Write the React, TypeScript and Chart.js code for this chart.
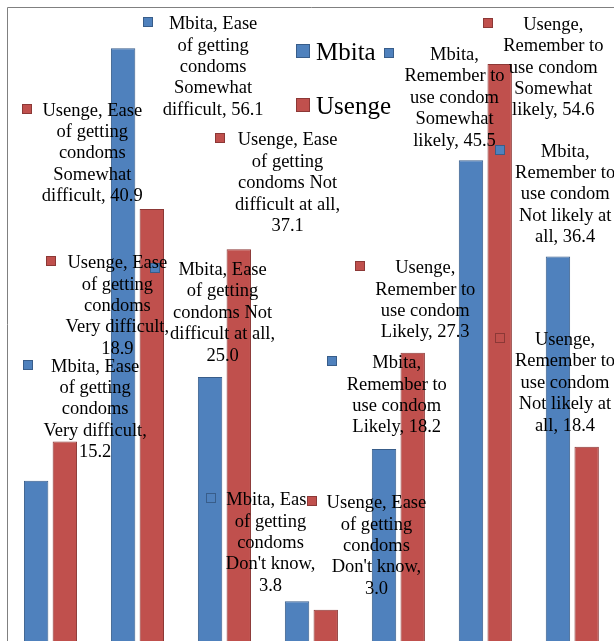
import React, { useEffect, useRef } from 'react';
import Chart from 'chart.js/auto';

// non-breaking spaces keep "Very difficult" together, as Excel wrapped it
const categories = [
    'Ease of getting condoms Very\u00a0difficult',
    'Ease of getting condoms Somewhat difficult',
    'Ease of getting condoms Not difficult at all',
    "Ease of getting condoms Don't know",
    'Remember to use condom Likely',
    'Remember to use condom Somewhat likely',
    'Remember to use condom Not likely at all',
];
const seriesNames = ['Mbita', 'Usenge'];
const mbitaValues = [15.2, 56.1, 25.0, 3.8, 18.2, 45.5, 36.4];
const usengeValues = [18.9, 40.9, 37.1, 3.0, 27.3, 54.6, 18.4];

// where each data label sits, relative to the top centre of its bar:
// [text centre dx, first baseline dy]
const mbitaLabelOffsets = [[59, -109], [90, -19], [12.5, -102], [-26.5, -96], [12.7, -80.7], [-16.5, -100.4], [7.2, -100]];
const usengeLabelOffsets = [[52.5, -173.3], [-59.5, -93.3], [48.8, -103.7], [50.7, -101.4], [12.5, -79.5], [53.6, -34.2], [-21.7, -101.9]];

const BLUE = '#4F81BD';
const BLUE_EDGE = '#385D8A';
const RED = '#C0504D';
const RED_EDGE = '#8C3836';
const FONT = '"Liberation Serif", "Times New Roman", serif';
const LABEL_SIZE = 18.5;
const LINE_H = 21.4;

function wrap(ctx: CanvasRenderingContext2D, text: string, maxW: number) {
    const words = text.split(' ');
    const lines: string[] = [];
    let cur = '';
    for (const w of words) {
        const t = cur ? cur + ' ' + w : w;
        if (cur && ctx.measureText(t).width > maxW) {
            lines.push(cur);
            cur = w;
        } else {
            cur = t;
        }
    }
    if (cur) lines.push(cur);
    return lines;
}

// plot area border (only the left and top edges fall inside the picture)
const framePlugin = {
    id: 'frame',
    beforeDatasetsDraw(chart: any) {
        const { ctx, chartArea: a } = chart;
        const l = Math.round(a.left) + 0.5;
        const t = Math.round(a.top) + 0.5;
        ctx.save();
        ctx.strokeStyle = '#808080';
        ctx.lineWidth = 1;
        ctx.beginPath();
        ctx.moveTo(l, a.bottom);
        ctx.lineTo(l, t);
        ctx.lineTo(a.right, t);
        ctx.stroke();
        ctx.restore();
    },
};

const labelPlugin = {
    id: 'barLabels',
    afterDatasetsDraw(chart: any) {
        const ctx: CanvasRenderingContext2D = chart.ctx;
        const offsets = [mbitaLabelOffsets, usengeLabelOffsets];
        ctx.save();
        ctx.font = `${LABEL_SIZE}px ${FONT}`;
        ctx.textAlign = 'center';
        ctx.textBaseline = 'alphabetic';
        chart.data.datasets.forEach((ds: any, d: number) => {
            const meta = chart.getDatasetMeta(d);
            meta.data.forEach((bar: any, i: number) => {
                const { x, y } = bar.getProps(['x', 'y'], true);
                const text = `${ds.label}, ${categories[i]}, ${ds.data[i].toFixed(1)}`;
                const lines = wrap(ctx, text, LABEL_SIZE * 5.79);
                const cx = x + offsets[d][i][0];
                const by = y + offsets[d][i][1];
                const w = Math.max(...lines.map(l => ctx.measureText(l).width));
                // legend key
                const kx = Math.round(cx - w / 2 - 20);
                const ky = Math.round(by - 12);
                ctx.fillStyle = ds.backgroundColor;
                ctx.fillRect(kx, ky, 10, 10);
                ctx.strokeStyle = ds.borderColor;
                ctx.lineWidth = 1;
                ctx.strokeRect(kx + 0.5, ky + 0.5, 9, 9);
                ctx.fillStyle = '#000';
                lines.forEach((l, k) => ctx.fillText(l, cx, by + k * LINE_H));
            });
        });
        ctx.restore();
    },
};

const legendPlugin = {
    id: 'legendBox',
    afterDraw(chart: any) {
        const ctx: CanvasRenderingContext2D = chart.ctx;
        ctx.save();
        ctx.font = `25px ${FONT}`;
        ctx.textAlign = 'left';
        ctx.textBaseline = 'alphabetic';
        chart.data.datasets.forEach((ds: any, d: number) => {
            const top = d === 0 ? 44 : 98;
            ctx.fillStyle = ds.backgroundColor;
            ctx.fillRect(296, top, 14, 14);
            ctx.strokeStyle = ds.borderColor;
            ctx.strokeRect(296.5, top + 0.5, 13, 13);
            ctx.fillStyle = '#000';
            ctx.fillText(ds.label, 316, top + 15.5);
        });
        ctx.restore();
    },
};

const CondomChart: React.FC = () => {
    const chartRef = useRef<HTMLCanvasElement>(null);
    const chartInstance = useRef<Chart | null>(null);

    useEffect(() => {
        if (!chartRef.current) return;
        if (chartInstance.current) chartInstance.current.destroy();

        chartInstance.current = new Chart(chartRef.current, {
            type: 'bar',
            data: {
                labels: categories,
                datasets: [
                    {
                        label: seriesNames[0],
                        data: mbitaValues,
                        backgroundColor: BLUE,
                        borderColor: BLUE_EDGE,
                        borderWidth: 1,
                        categoryPercentage: 0.66,
                        barPercentage: 0.85,
                    },
                    {
                        label: seriesNames[1],
                        data: usengeValues,
                        backgroundColor: RED,
                        borderColor: RED_EDGE,
                        borderWidth: 1,
                        categoryPercentage: 0.66,
                        barPercentage: 0.85,
                    },
                ],
            },
            options: {
                responsive: true,
                maintainAspectRatio: false,
                animation: false,
                layout: { padding: { left: 7, top: 7, right: 6.2, bottom: 8.6 } },
                scales: {
                    x: { display: false },
                    y: { display: false, min: 0, max: 60 },
                },
                plugins: {
                    legend: { display: false },
                    tooltip: { enabled: false },
                    title: { display: false },
                },
            },
            plugins: [framePlugin, labelPlugin, legendPlugin],
        });

        return () => {
            if (chartInstance.current) {
                chartInstance.current.destroy();
                chartInstance.current = null;
            }
        };
    }, []);

    return (
        <div style={{ position: 'fixed', left: 0, top: 0, width: 614, height: 641, overflow: 'hidden', background: '#fff' }}>
            <div style={{ position: 'relative', width: 622, height: 650 }}>
                <canvas ref={chartRef}></canvas>
            </div>
        </div>
    );
};

export default function App() {
    return <CondomChart />;
}
